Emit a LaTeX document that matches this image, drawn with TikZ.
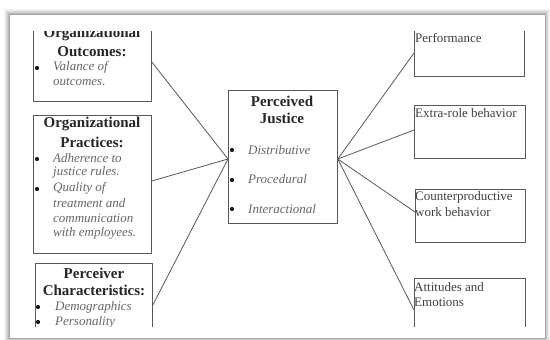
\documentclass[tikz,border=0pt]{standalone}
\usepackage{fontspec}
\setmainfont{Liberation Serif}
\begin{document}
\begin{tikzpicture}[x=1pt,y=-1pt,
  box/.style={draw=black!65,line width=0.8pt,anchor=north west,inner sep=0pt},
  ttl/.style={font=\fontsize{15}{17}\selectfont\bfseries,text=black!85,inner sep=0pt},
  itm/.style={font=\fontsize{13}{15}\selectfont\itshape,text=black!60,anchor=west,inner sep=0pt},
  rtx/.style={font=\fontsize{13}{15}\selectfont,text=black!75,anchor=west,inner sep=0pt},
  dot/.style={circle,fill=black!90,inner sep=0pt,minimum size=4.2pt},
  link/.style={draw=black!65,line width=0.8pt}]
\useasboundingbox (0,0) rectangle (550,340);
% frame with soft shadow
\foreach \i/\o in {5/0.04,4/0.05,3/0.06,2/0.07,1/0.08}{
  \fill[black,opacity=\o] (9-\i,14-\i) rectangle (545+\i,338+\i);}
\node[draw=black!35,line width=0.8pt,fill=white,anchor=north west,inner sep=0pt,
  minimum width=536pt,minimum height=324pt] (frame) at (9,14) {};
\begin{scope}
\clip (9,31) rectangle (545,326);
% left boxes
\node[box,minimum width=118pt,minimum height=81pt] (b1) at (33,20) {};
\node[box,minimum width=118pt,minimum height=138pt] (b2) at (33,115) {};
\node[box,minimum width=117pt,minimum height=80pt] (b3) at (35,263) {};
% centre
\node[box,minimum width=109pt,minimum height=133pt] (jc) at (228,90) {};
% right boxes
\node[box,minimum width=110pt,minimum height=56pt] (r1) at (414,20) {};
\node[box,minimum width=111pt,minimum height=53pt] (r2) at (414,105) {};
\node[box,minimum width=110pt,minimum height=53pt] (r3) at (415,189) {};
\node[box,minimum width=111pt,minimum height=60pt] (r4) at (414,278) {};
% box 1 text
\node[ttl] (t1a) at (92,34) {Organizational};
\node[ttl] (t1b) at (92,52) {Outcomes:};
\node[dot] (d1a) at (37,68) {};
\node[itm] (i1a) at (53,67) {Valance of};
\node[itm] (i1b) at (53,82) {outcomes.};
% box 2 text
\node[ttl] (t2a) at (92,124) {Organizational};
\node[ttl] (t2b) at (92,142) {Practices:};
\node[dot] (d2a) at (37,159) {};
\node[itm] (i2a) at (53,158) {Adherence to};
\node[itm] (i2b) at (53,172) {justice rules.};
\node[dot] (d2b) at (37,189) {};
\node[itm] (i2c) at (53,188) {Quality of};
\node[itm] (i2d) at (53,203) {treatment and};
\node[itm] (i2e) at (53,218) {communication};
\node[itm] (i2f) at (53,233) {with employees.};
% box 3 text
\node[ttl] (t3a) at (94,273) {Perceiver};
\node[ttl] (t3b) at (94,290) {Characteristics:};
\node[dot] (d3a) at (38,307) {};
\node[itm] (i3a) at (55,307) {Demographics};
\node[dot] (d3b) at (38,322) {};
\node[itm] (i3b) at (55,322) {Personality};
% centre text
\node[ttl] (tca) at (282,101) {Perceived};
\node[ttl] (tcb) at (282,118) {Justice};
\node[dot] (dca) at (232,150) {};
\node[itm] (ica) at (248,150) {Distributive};
\node[dot] (dcb) at (232,180) {};
\node[itm] (icb) at (248,179) {Procedural};
\node[dot] (dcc) at (232,209) {};
\node[itm] (icc) at (248,209) {Interactional};
% right texts
\node[rtx] (x1) at (415,38) {Performance};
\node[rtx] (x2) at (415,113) {Extra-role behavior};
\node[rtx] (x3a) at (415,197) {Counterproductive};
\node[rtx] (x3b) at (415,212) {work behavior};
\node[rtx] (x4a) at (414,287) {Attitudes and};
\node[rtx] (x4b) at (414,302) {Emotions};
\end{scope}
% connectors
\draw[link] (b1.east |- 0,62) -- (jc.west |- 0,159);
\draw[link] (b2.east |- 0,181) -- (jc.west |- 0,159);
\draw[link] (b3.east |- 0,305) -- (jc.west |- 0,159);
\draw[link] (jc.east |- 0,159) -- (r1.west |- 0,53);
\draw[link] (jc.east |- 0,159) -- (r2.west |- 0,130);
\draw[link] (jc.east |- 0,159) -- (r3.west |- 0,212);
\draw[link] (jc.east |- 0,159) -- (r4.west |- 0,310);
\end{tikzpicture}
\end{document}
